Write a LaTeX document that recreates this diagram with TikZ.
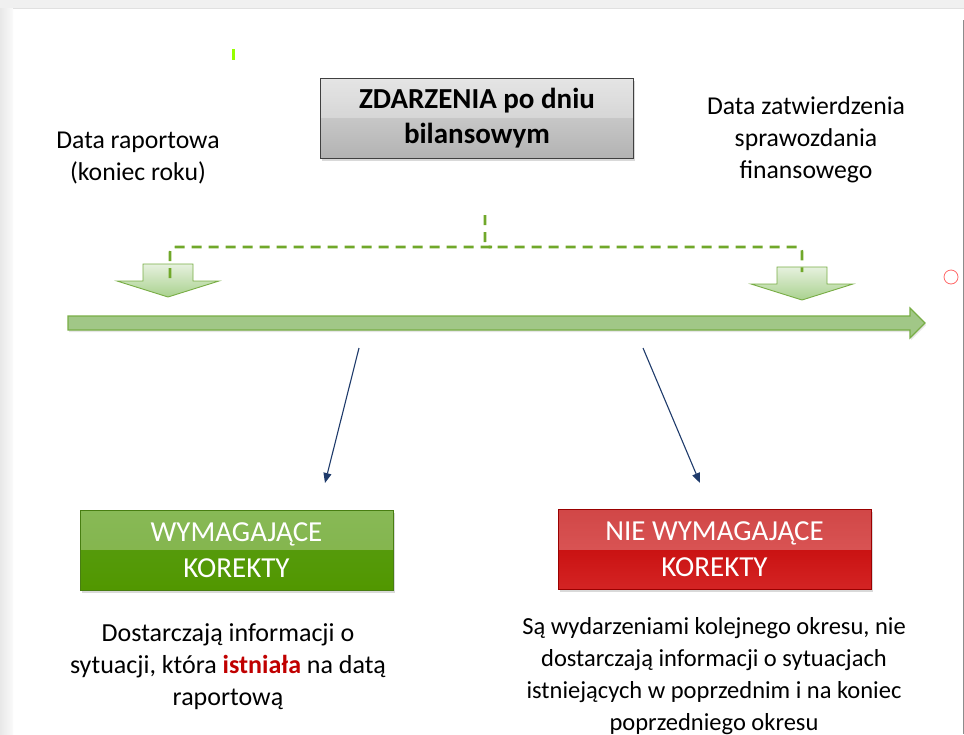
\documentclass[tikz,border=0pt]{standalone}
\usepackage{fontspec}
\setmainfont{Carlito}
\usetikzlibrary{shadows,arrows.meta}
\definecolor{zielen}{HTML}{70A82A}
\definecolor{zielenJasna}{HTML}{E6F1DE}
\definecolor{zielenSrednia}{HTML}{A9D18E}
\definecolor{zielenRamka}{HTML}{78AD45}
\definecolor{zielenCiemna}{HTML}{519700}
\definecolor{zielenPrz}{HTML}{5A9E16}
\definecolor{granat}{HTML}{1F3B6B}
\definecolor{czerwien}{HTML}{C00000}
\definecolor{czerwienJasna}{HTML}{D42424}
\tikzset{
  polysk/.style={path picture={\fill[white,opacity=.28] (path picture bounding box.north west) rectangle (path picture bounding box.east);}},
  przycisk/.style={line width=.8pt,minimum width=313,minimum height=80,
    inner sep=0pt,align=center,polysk,drop shadow={shadow xshift=1.5pt,shadow yshift=-2.5pt,opacity=.3}},
  opis/.style={align=center,inner sep=0pt,font=\fontsize{24.5}{32}\selectfont},
  etykieta/.style={align=center,inner sep=0pt,font=\fontsize{25.7}{32}\selectfont},
  strzalka/.style={draw=granat,line width=1.1pt,-{Triangle[length=10pt,width=8pt]}},
  klamra/.style={draw=zielen,line width=2.6pt,dash pattern=on 10pt off 7pt},
  blok/.style={draw=zielenRamka,line width=.9pt,top color=zielenJasna,bottom color=zielenSrednia}
}
\begin{document}
\begin{tikzpicture}[x=1pt,y=-1pt]
\useasboundingbox (0,0) rectangle (964,734);
% ramka zrzutu ekranu
\fill[black!6] (0,0) rectangle (964,8);
\shade[left color=black!9,right color=black!2] (0,8) rectangle (13,734);
\draw[black!12] (13,8) -- (964,8);
\draw[black!45] (963,20) -- (963,734);
\fill[green!45!lime!70!yellow] (232,49) rectangle (234.5,60);
\draw[red!60,line width=.8pt] (951,277) circle (7);

% naglowek
\node[przycisk,draw=black!75,top color=black!14,bottom color=black!30,
  font=\fontsize{29}{35}\selectfont\bfseries] (zdarzenia) at (477,118)
  {ZDARZENIA po dniu\\bilansowym};
\node[etykieta] (dataRap) at (138,158) {Data raportowa\\(koniec roku)};
\node[etykieta] (dataZat) at (806,140) {Data zatwierdzenia\\sprawozdania\\finansowego};

% os czasu
\path[blok,draw=zielenRamka,line width=1.2pt,middle color=zielenJasna!60!zielenSrednia,top color=zielenSrednia!95!black,bottom color=zielenSrednia!95!black,
  drop shadow={shadow xshift=1pt,shadow yshift=-2pt,opacity=.2}]
  (68,316) -- (910,316) -- (910,308) -- (925,323) -- (910,338) -- (910,330) -- (68,330) -- cycle;

% strzalki blokowe
\path[blok] (143,264) -- (193,264) -- (193,281) -- (219,281) -- (168,297) -- (117,281) -- (143,281) -- cycle;
\path[blok] (777,267) -- (827,267) -- (827,284) -- (853,284) -- (802,300) -- (751,284) -- (777,284) -- cycle;

% klamra
\coordinate (klamraL) at (170,278);
\coordinate (klamraS) at (485,215);
\coordinate (klamraP) at (802,272);
\draw[klamra] (klamraL) -- (170,255) .. controls (170,247) .. (178,247) -- (795,247)
  .. controls (802,247) .. (802,255) -- (klamraP);
\draw[klamra] (klamraS) -- (485,240) .. controls (485,247) .. (492,247);

% przyciski
\node[przycisk,draw=zielenPrz!80!black,top color=zielenPrz,bottom color=zielenCiemna,
  text=white,font=\fontsize{29}{36}\selectfont] (korYes) at (236.5,550) {WYMAGAJĄCE\\KOREKTY};
\node[przycisk,draw=czerwien!80!black,top color=czerwien,bottom color=czerwienJasna,
  text=white,font=\fontsize{29}{36}\selectfont] (korNo) at (714.5,549.5) {NIE WYMAGAJĄCE\\KOREKTY};

% strzalki
\coordinate (odYes) at (359,348);
\coordinate (doYes) at (325,483);
\coordinate (odNo) at (643,348);
\coordinate (doNo) at (700,483);
\draw[strzalka] (odYes) -- (doYes);
\draw[strzalka] (odNo) -- (doNo);

% opisy
\node[opis,font=\fontsize{26}{32}\selectfont] (opisYes) at (228,667) {Dostarczają informacji o\\sytuacji, która
  \textcolor{czerwien}{\bfseries istniała} na datą\\raportową};
\node[opis] (opisNo) at (714,676) {Są wydarzeniami kolejnego okresu, nie\\dostarczają informacji o sytuacjach\\
  istniejących w poprzednim i na koniec\\poprzedniego okresu};
\end{tikzpicture}
\end{document}
